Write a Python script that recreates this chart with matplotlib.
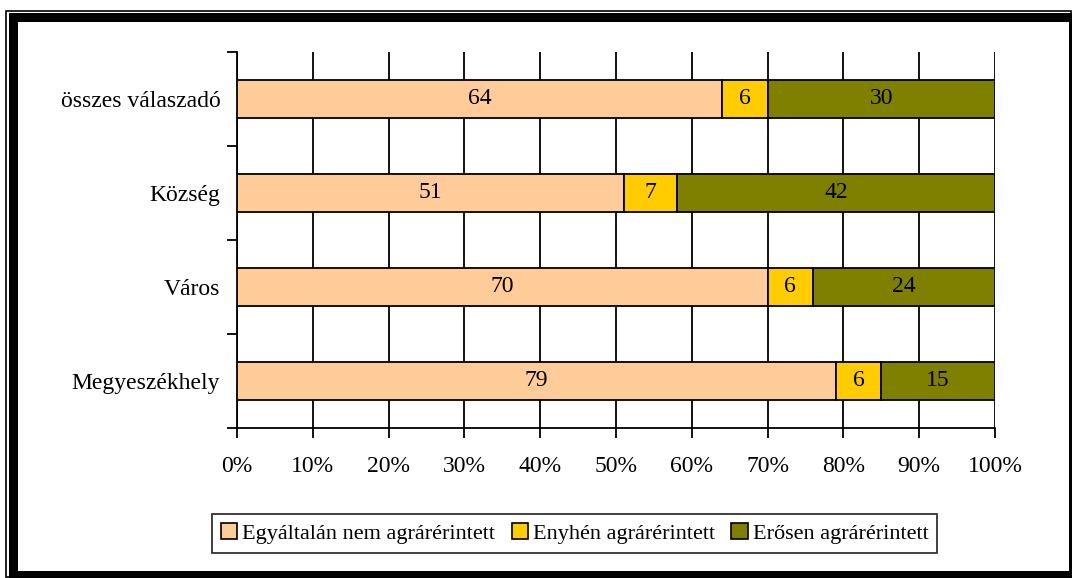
import matplotlib
matplotlib.use("Agg")
import matplotlib.pyplot as plt
from matplotlib.patches import Rectangle
import numpy as np

categories = ["Megyeszékhely", "Város", "Község", "összes válaszadó"]
series_names = ["Egyáltalán nem agrárérintett", "Enyhén agrárérintett", "Erősen agrárérintett"]
nem = [79, 70, 51, 64]
enyhen = [6, 6, 7, 6]
erosen = [15, 24, 42, 30]
colors = ["#FFCC99", "#FFCC00", "#808000"]
xtick_labels = ["0%", "10%", "20%", "30%", "40%", "50%", "60%", "70%", "80%", "90%", "100%"]

plt.rcParams['font.family'] = ['Liberation Serif', 'DejaVu Serif']

W, H = 1072, 578
fig = plt.figure(figsize=(W / 100, H / 100), dpi=100)

# frame
def frect(x0, y0, x1, y1, **kw):
    fig.patches.append(Rectangle((x0 / W, 1 - y1 / H), (x1 - x0) / W, (y1 - y0) / H,
                                 transform=fig.transFigure, zorder=-10, **kw))

frect(0, 0, W, H, facecolor="white", edgecolor="none")
frect(5.5, 10.5, W - 1, H - 1, facecolor="none", edgecolor="black", lw=1.2)
frect(9, 13, W, H, facecolor="black", edgecolor="none")
frect(18, 22, 1069, 571, facecolor="white", edgecolor="none")

ax = fig.add_axes([237 / W, 1 - 428 / H, (995 - 237) / W, (428 - 52) / H])
ax.set_facecolor("none")
ax.set_zorder(1)

y = np.arange(len(categories))
data = [nem, enyhen, erosen]
left = np.zeros(len(categories))
for vals, col in zip(data, colors):
    vals = np.array(vals, dtype=float)
    ax.barh(y, vals, left=left, height=0.4, color=col, edgecolor="black", lw=1.3, zorder=3)
    for yi, l, v in zip(y, left, vals):
        ax.text(l + v / 2, yi, f"{int(v)}", ha="center", va="center", fontsize=17, zorder=4)
    left += vals

ax.set_xlim(0, 100)
ax.set_ylim(-0.5, len(categories) - 0.5)
ax.set_xticks(np.arange(0, 101, 10))
ax.set_xticklabels(xtick_labels, fontsize=17)
ax.set_yticks(y)
ax.set_yticklabels(categories, fontsize=17)
ax.tick_params(axis="y", length=0, pad=12)
ax.set_yticks(np.arange(-0.5, len(categories), 1), minor=True)
ax.tick_params(axis="y", which="minor", length=7, width=1.3, direction="out")
ax.tick_params(axis="x", length=7, width=1.3, direction="out", pad=13)
ax.grid(axis="x", color="black", lw=1.3, zorder=0)
for s in ["top", "right"]:
    ax.spines[s].set_visible(False)
for s in ["left", "bottom"]:
    ax.spines[s].set_linewidth(1.3)

handles = [Rectangle((0, 0), 1, 1, facecolor=c, edgecolor="black", lw=1.2) for c in colors]
leg = fig.legend(handles, series_names, loc="center", bbox_to_anchor=(574.5 / W, 1 - 533.5 / H),
                 ncol=3, fontsize=16, frameon=True, fancybox=False, edgecolor="black",
                 handlelength=0.75, handleheight=0.75, handletextpad=0.2, columnspacing=0.75,
                 borderpad=0.4, borderaxespad=0)
leg.get_frame().set_linewidth(1.3)
leg.set_zorder(2)

fig.savefig("out.png", dpi=100)
